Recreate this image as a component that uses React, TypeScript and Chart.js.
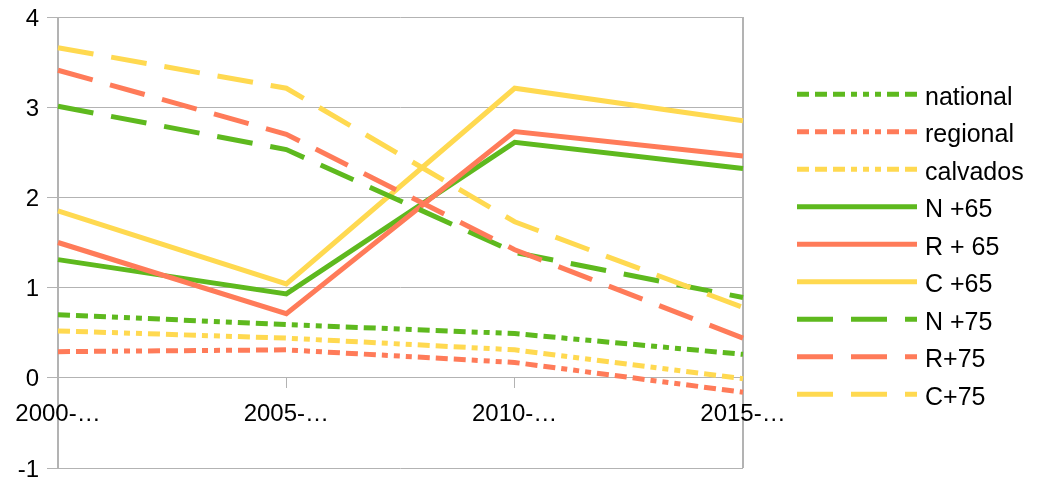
import React, { useEffect, useRef } from "react";
import { Chart, registerables } from "chart.js";

Chart.register(...registerables);

const categories = ["2000-…", "2005-…", "2010-…", "2015-…"];
const yTicks = [-1, 0, 1, 2, 3, 4];

const national = [0.7, 0.59, 0.49, 0.26];
const regional = [0.29, 0.31, 0.17, -0.16];
const calvados = [0.52, 0.44, 0.31, -0.01];
const n65 = [1.31, 0.93, 2.61, 2.32];
const r65 = [1.5, 0.71, 2.73, 2.46];
const c65 = [1.85, 1.04, 3.21, 2.85];
const n75 = [3.01, 2.53, 1.39, 0.89];
const r75 = [3.41, 2.7, 1.42, 0.44];
const c75 = [3.66, 3.21, 1.73, 0.78];

const seriesLabels = ["national", "regional", "calvados", "N +65", "R + 65", "C +65", "N +75", "R+75", "C+75"];

const GREEN = "#5eb91e";
const CORAL = "#ff7b59";
const YELLOW = "#ffd950";
const GRID = "#b3b3b3";
const FONT = "'Liberation Sans', Arial, sans-serif";

const DOTTED = [12, 6, 12, 6, 12, 6, 6, 6, 6, 6, 6, 6];
const DASHED = [36, 18];
const SOLID: number[] = [];

const legendPlugin = {
  id: "sideLegend",
  afterDraw(chart: any) {
    const ctx = chart.ctx;
    const x0 = 797;
    const w = 120;
    const textX = 925;
    const y0 = 94.3;
    const step = 37.5;
    ctx.save();
    chart.data.datasets.forEach((ds: any, i: number) => {
      const y = y0 + i * step;
      ctx.beginPath();
      ctx.setLineDash(ds.borderDash || []);
      ctx.lineDashOffset = 0;
      ctx.strokeStyle = ds.borderColor;
      ctx.lineWidth = ds.borderWidth;
      ctx.lineCap = "butt";
      ctx.moveTo(x0, y);
      ctx.lineTo(x0 + w, y);
      ctx.stroke();
      ctx.setLineDash([]);
      ctx.fillStyle = "#000";
      ctx.font = `25px ${FONT}`;
      ctx.textAlign = "left";
      ctx.textBaseline = "alphabetic";
      ctx.fillText(ds.label, textX, y + 10.5);
    });
    ctx.restore();
  },
};

const framePlugin = {
  id: "frame",
  beforeDraw(chart: any) {
    const { ctx, chartArea } = chart;
    ctx.save();
    ctx.strokeStyle = GRID;
    ctx.lineWidth = 2;
    ctx.beginPath();
    ctx.moveTo(chartArea.left, chartArea.top);
    ctx.lineTo(chartArea.left, chartArea.bottom);
    ctx.moveTo(chartArea.right, chartArea.top);
    ctx.lineTo(chartArea.right, chartArea.bottom);
    ctx.stroke();
    ctx.restore();
  },
};

export default function App() {
  const ref = useRef<HTMLCanvasElement | null>(null);

  useEffect(() => {
    document.body.style.margin = "0";
    if (!ref.current) return;
    const values = [national, regional, calvados, n65, r65, c65, n75, r75, c75];
    const colors = [GREEN, CORAL, YELLOW, GREEN, CORAL, YELLOW, GREEN, CORAL, YELLOW];
    const dashes = [DOTTED, DOTTED, DOTTED, SOLID, SOLID, SOLID, DASHED, DASHED, DASHED];
    const datasets = values.map((v, i) => ({
      label: seriesLabels[i],
      data: v,
      borderColor: colors[i],
      backgroundColor: colors[i],
      borderWidth: 5,
      borderDash: dashes[i],
      borderCapStyle: "butt" as const,
      pointRadius: 0,
      pointHoverRadius: 0,
      tension: 0,
      fill: false,
      order: 8 - i,
    }));

    const chart = new Chart(ref.current, {
      type: "line",
      data: { labels: categories, datasets },
      plugins: [framePlugin, legendPlugin],
      options: {
        animation: false,
        responsive: false,
        maintainAspectRatio: false,
        layout: { padding: { top: 17, bottom: 12, left: 0, right: 307 } },
        plugins: { legend: { display: false }, tooltip: { enabled: false } },
        scales: {
          x: {
            type: "category",
            offset: false,
            position: { y: 0 } as any,
            afterFit(scale: any) {
              scale.paddingLeft = 0;
              scale.paddingRight = 0;
              scale.paddingTop = 0;
              scale.paddingBottom = 0;
            },
            grid: { drawOnChartArea: false, drawTicks: true, tickLength: 10, color: GRID, lineWidth: 1 },
            border: { display: true, color: GRID, width: 1 },
            ticks: {
              font: { family: FONT, size: 24, lineHeight: 1 },
              color: "#000",
              padding: 15,
              maxRotation: 0,
              autoSkip: false,
            },
          },
          y: {
            min: -1,
            max: 4,
            afterFit(scale: any) {
              scale.width = 58;
              scale.paddingTop = 0;
              scale.paddingBottom = 0;
              scale.paddingLeft = 0;
              scale.paddingRight = 0;
            },
            afterBuildTicks(scale: any) {
              scale.ticks = yTicks.map((v) => ({ value: v }));
            },
            grid: { color: GRID, lineWidth: 1, tickLength: 11, drawTicks: true },
            border: { display: false },
            ticks: {
              font: { family: FONT, size: 24, lineHeight: 1 },
              color: "#000",
              padding: 8,
              labelOffset: 2,
              stepSize: 1,
            },
          },
        },
      },
    });
    return () => chart.destroy();
  }, []);

  return <canvas ref={ref} width={1050} height={480} style={{ display: "block" }} />;
}
